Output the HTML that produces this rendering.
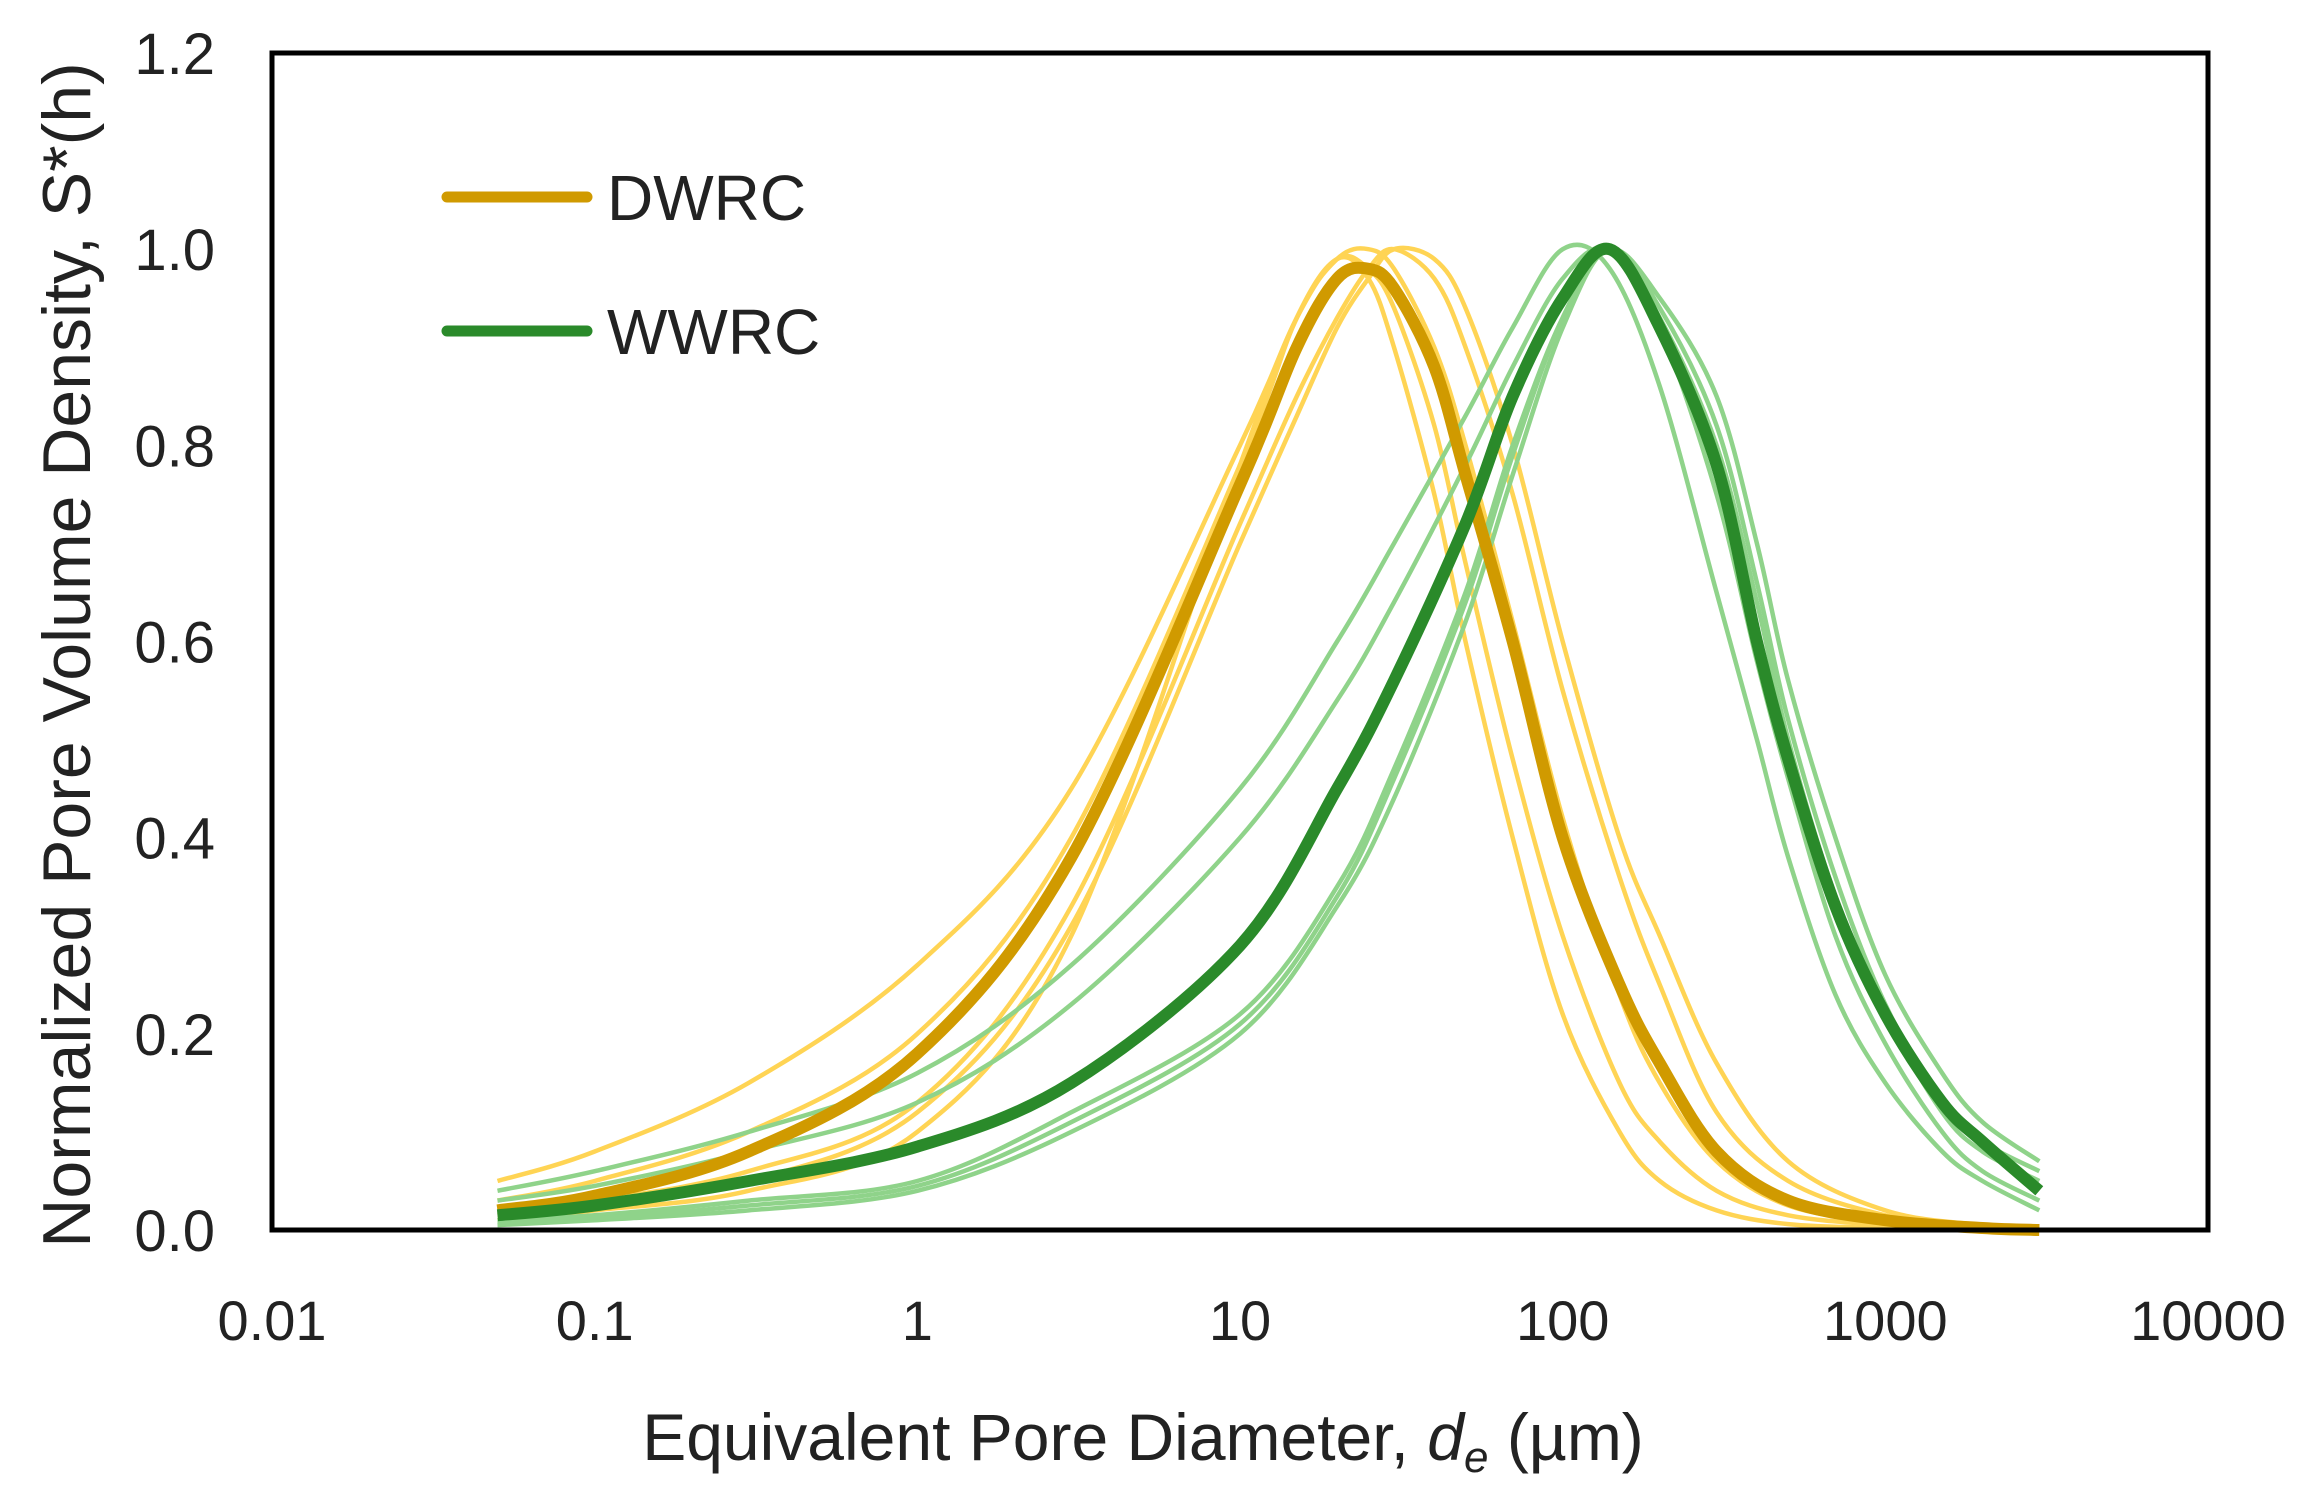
<!DOCTYPE html>
<html><head><meta charset="utf-8"><style>
html,body{margin:0;padding:0;background:#fff;}
svg{display:block;font-family:"Liberation Sans",sans-serif;}
</style></head><body>
<svg id="chart" width="2317" height="1495" viewBox="0 0 2317 1495">
<g id="curves"></g>
<rect x="272" y="53" width="1936" height="1177" fill="none" stroke="#000" stroke-width="5"/>
<g id="ticks"></g>
<text x="1143" y="1460" font-size="66" text-anchor="middle" fill="#222">Equivalent Pore Diameter, <tspan font-style="italic">d</tspan><tspan font-style="italic" font-size="44" dy="12">e</tspan><tspan dy="-12"> (µm)</tspan></text>
<text transform="translate(90,655) rotate(-90)" font-size="68" text-anchor="middle" fill="#222">Normalized Pore Volume Density, S*(h)</text>
<g>
<line x1="447" y1="197" x2="587" y2="197" stroke="#D09A00" stroke-width="11" stroke-linecap="round"/>
<text x="607" y="220" font-size="64" fill="#222">DWRC</text>
<line x1="447" y1="331" x2="587" y2="331" stroke="#2A8A2A" stroke-width="11" stroke-linecap="round"/>
<text x="607" y="354" font-size="64" fill="#222">WWRC</text>
</g>
</svg>
<script>
const xTicks = [0.01,0.1,1,10,100,1000,10000];
const xTickLabels = ["0.01","0.1","1","10","100","1000","10000"];
const yTicks = [0,0.2,0.4,0.6,0.8,1.0,1.2];
const yTickLabels = ["0.0","0.2","0.4","0.6","0.8","1.0","1.2"];

const dX = [0.05,0.1,0.3,1,3,10,15,20,25,30,40,50,70,100,150,200,300,500,1000,2000,3000];
const dMain = [0.02,0.035,0.08,0.18,0.38,0.76,0.9,0.97,0.98,0.96,0.88,0.77,0.6,0.4,0.25,0.17,0.08,0.03,0.01,0.002,0];
const d1 = [0.05,0.08,0.15,0.27,0.45,0.8,0.93,0.99,0.98,0.94,0.82,0.68,0.48,0.3,0.15,0.09,0.04,0.015,0.005,0,0];
const d2 = [0.03,0.05,0.1,0.2,0.4,0.78,0.93,0.99,1.0,0.98,0.9,0.8,0.62,0.42,0.24,0.15,0.07,0.025,0.008,0.002,0];
const d3 = [0.02,0.03,0.06,0.13,0.33,0.72,0.85,0.93,0.98,1.0,0.97,0.9,0.75,0.55,0.36,0.25,0.12,0.05,0.015,0.004,0.001];
const d4 = [0.01,0.02,0.04,0.1,0.3,0.78,0.93,0.99,0.97,0.9,0.75,0.6,0.4,0.22,0.1,0.05,0.02,0.006,0.002,0,0];
const d5 = [0.015,0.025,0.05,0.12,0.31,0.7,0.83,0.92,0.97,1.0,0.99,0.94,0.8,0.6,0.4,0.3,0.17,0.07,0.02,0.005,0.002];

const wX = [0.05,0.1,0.3,1,3,10,20,30,50,70,100,140,200,300,400,500,700,1000,1500,2000,3000];
const wMain = [0.015,0.025,0.05,0.085,0.15,0.29,0.45,0.56,0.72,0.85,0.95,1.0,0.92,0.78,0.6,0.48,0.33,0.22,0.13,0.09,0.04];
const w1 = [0.04,0.06,0.1,0.16,0.27,0.45,0.6,0.7,0.83,0.92,1.0,0.98,0.86,0.65,0.5,0.38,0.24,0.15,0.08,0.05,0.02];
const w2 = [0.03,0.045,0.08,0.13,0.23,0.4,0.54,0.64,0.78,0.88,0.97,1.0,0.92,0.75,0.58,0.46,0.3,0.19,0.1,0.06,0.03];
const w3 = [0.01,0.015,0.03,0.05,0.12,0.22,0.35,0.47,0.65,0.8,0.93,1.0,0.95,0.85,0.7,0.56,0.4,0.26,0.16,0.11,0.07];
const w4 = [0.005,0.01,0.02,0.04,0.1,0.2,0.33,0.44,0.62,0.77,0.92,1.0,0.93,0.8,0.64,0.5,0.34,0.22,0.12,0.08,0.05];
const w5 = [0.008,0.012,0.025,0.045,0.11,0.21,0.34,0.46,0.64,0.79,0.93,1.0,0.94,0.82,0.66,0.52,0.36,0.23,0.13,0.09,0.06];

const NS = "http://www.w3.org/2000/svg";
const X0 = 272, X1 = 2208, Y0 = 1230, Y1 = 53;
function xs(v){ return X0 + (Math.log10(v) - Math.log10(0.01)) / 6 * (X1 - X0); }
function ys(v){ return Y0 - v / 1.2 * (Y0 - Y1); }

function pathFor(xa, ya){
  const p = xa.map((x,i)=>[xs(x), ys(ya[i])]);
  let d = "M" + p[0][0].toFixed(1) + "," + p[0][1].toFixed(1);
  for (let i=0;i<p.length-1;i++){
    const a = p[Math.max(0,i-1)], b = p[i], c = p[i+1], e = p[Math.min(p.length-1,i+2)];
    const c1x = b[0] + (c[0]-a[0])/6, c1y = b[1] + (c[1]-a[1])/6;
    const c2x = c[0] - (e[0]-b[0])/6, c2y = c[1] - (e[1]-b[1])/6;
    d += " C" + c1x.toFixed(1)+","+c1y.toFixed(1)+" "+c2x.toFixed(1)+","+c2y.toFixed(1)+" "+c[0].toFixed(1)+","+c[1].toFixed(1);
  }
  return d;
}
const g = document.getElementById("curves");
function addLine(xa, ya, color, w, name){
  const el = document.createElementNS(NS, "path");
  el.setAttribute("d", pathFor(xa, ya));
  el.setAttribute("fill", "none");
  el.setAttribute("stroke", color);
  el.setAttribute("stroke-width", w);
  el.setAttribute("stroke-linejoin", "round");
  
  
  g.appendChild(el);
}
[d1,d2,d3,d4,d5].forEach((s,i)=>addLine(dX, s, "#FFD454", 4.5, "dwrc-sample-" + (i+1)));
[w1,w2,w3,w4,w5].forEach((s,i)=>addLine(wX, s, "#8FD38A", 4.5, "wwrc-sample-" + (i+1)));
addLine(dX, dMain, "#D09A00", 12, "dwrc-mean-line");
addLine(wX, wMain, "#2A8A2A", 12, "wwrc-mean-line");

const t = document.getElementById("ticks");
xTicks.forEach((v,i)=>{
  const el = document.createElementNS(NS, "text");
  el.setAttribute("x", xs(v));
  el.setAttribute("y", 1340);
  el.setAttribute("font-size", "56");
  el.setAttribute("text-anchor", "middle");
  el.setAttribute("fill", "#222");
  el.textContent = xTickLabels[i];
  
  
  t.appendChild(el);
});
yTicks.forEach((v,i)=>{
  const el = document.createElementNS(NS, "text");
  el.setAttribute("x", 215);
  el.setAttribute("y", ys(v) + 21);
  el.setAttribute("font-size", "58");
  el.setAttribute("text-anchor", "end");
  el.setAttribute("fill", "#222");
  el.textContent = yTickLabels[i];
  
  
  t.appendChild(el);
});
</script>
</body></html>
